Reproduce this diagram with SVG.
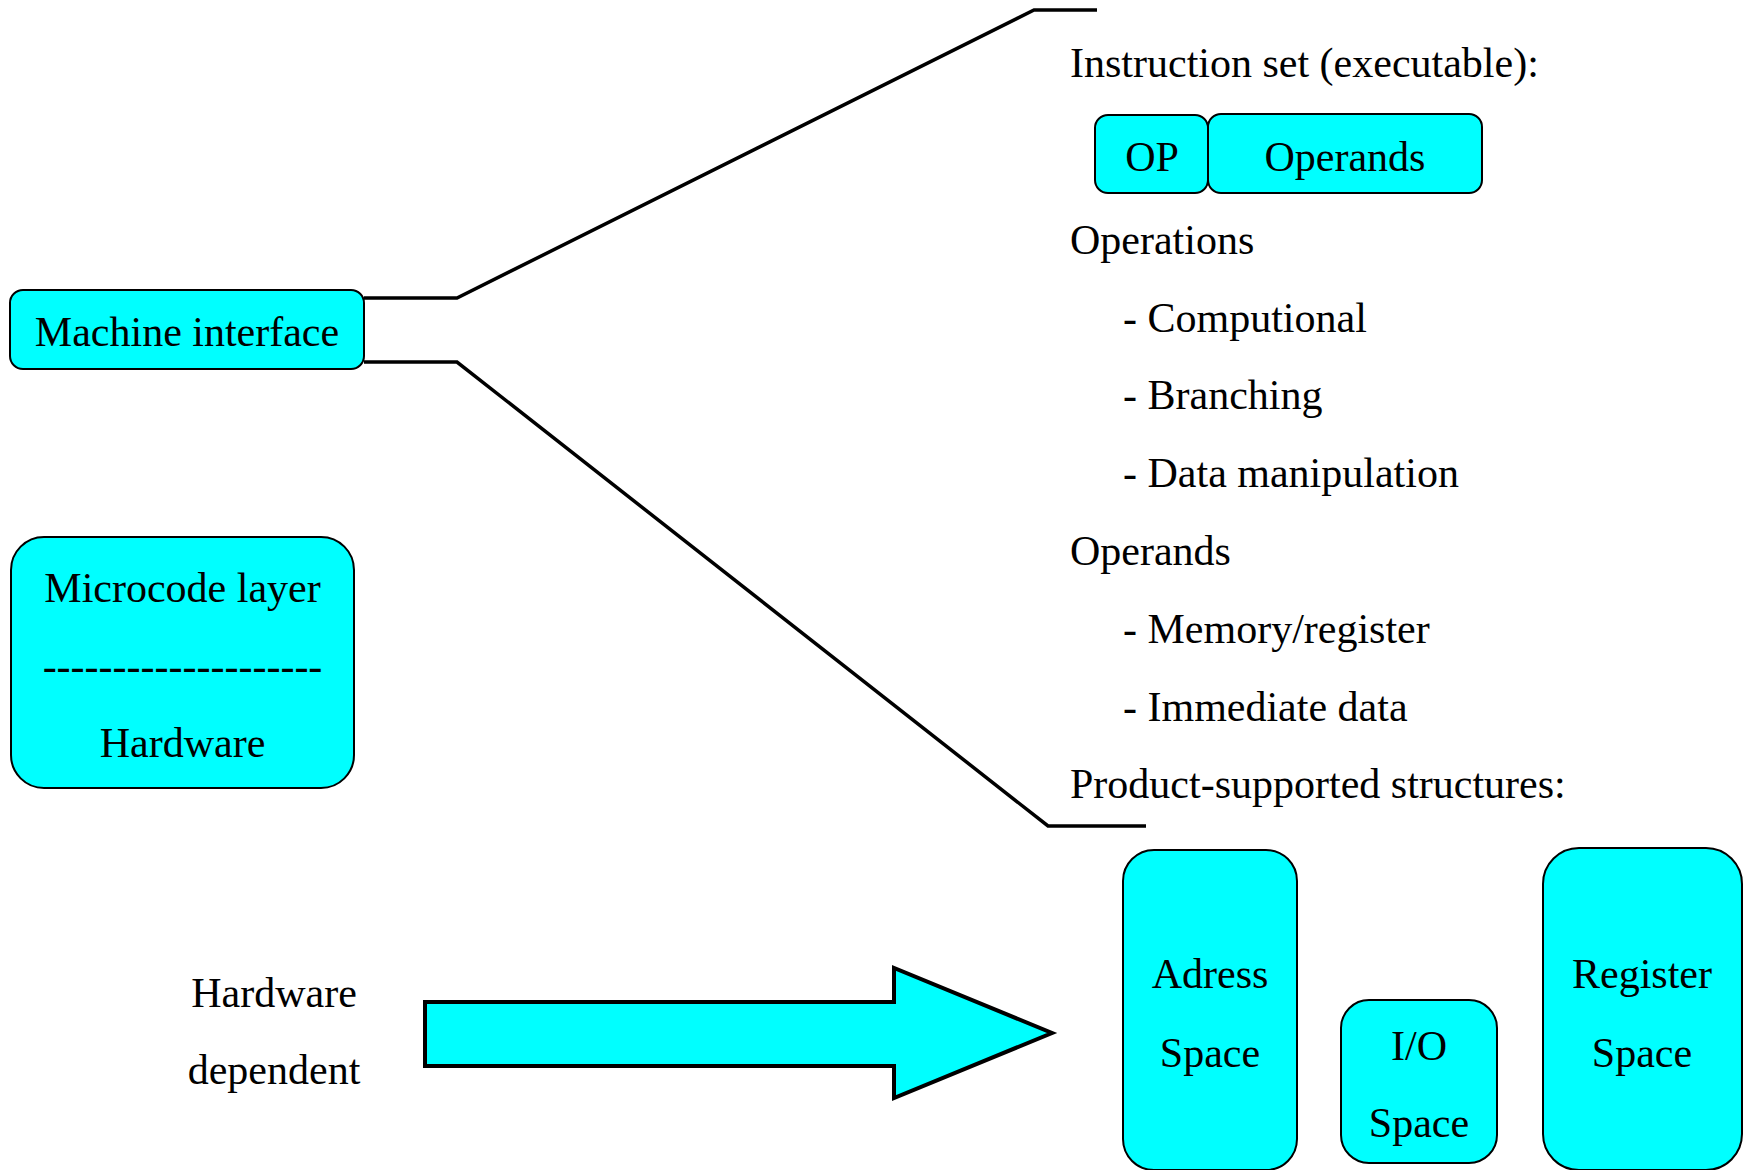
<svg xmlns="http://www.w3.org/2000/svg" width="1754" height="1170" viewBox="0 0 1754 1170">
  <style>
    text { font-family: "Liberation Serif", "Times New Roman", serif; font-size: 42px; fill: #000; }
    .c { text-anchor: middle; }
    .box { fill: #00FFFF; stroke: #000; stroke-width: 2; }
    .link { fill: none; stroke: #000; stroke-width: 3.5; stroke-linejoin: miter; }
    .big-arrow { fill: #00FFFF; stroke: #000; stroke-width: 4; stroke-linejoin: miter; }
  </style>
  <rect width="1754" height="1170" fill="#fff"/>

  <!-- brackets from the machine interface to its description -->
  <g id="connectors">
    <polyline class="link" points="364,298 457,298 1034,10 1097,10"/>
    <polyline class="link" points="364,362 457,362 1048,826 1146,826"/>
  </g>

  <g id="machine-interface">
    <rect class="box" x="10" y="290" width="354" height="79" rx="13"/>
    <text class="c" x="187" y="346">Machine interface</text>
  </g>

  <g id="microcode-hardware">
    <rect class="box" x="11" y="537" width="343" height="251" rx="33"/>
    <text class="c" x="182.5" y="602">Microcode layer</text>
    <text class="c" x="182.5" y="680">--------------------</text>
    <text class="c" x="182.5" y="757">Hardware</text>
  </g>

  <g id="instruction-set">
    <text x="1070" y="77">Instruction set (executable):</text>
  </g>

  <g id="op-field">
    <rect class="box" x="1095" y="115" width="113" height="78" rx="13"/>
    <text class="c" x="1152" y="171">OP</text>
  </g>

  <g id="operands-field">
    <rect class="box" x="1208" y="114" width="274" height="79" rx="13"/>
    <text class="c" x="1345" y="171">Operands</text>
  </g>

  <g id="description">
    <text x="1070" y="254">Operations</text>
    <text x="1123" y="332">- Computional</text>
    <text x="1123" y="409">- Branching</text>
    <text x="1123" y="487">- Data manipulation</text>
    <text x="1070" y="565">Operands</text>
    <text x="1123" y="643">- Memory/register</text>
    <text x="1123" y="721">- Immediate data</text>
    <text x="1070" y="798">Product-supported structures:</text>
  </g>

  <g id="hardware-dependent">
    <text class="c" x="274" y="1007">Hardware</text>
    <text class="c" x="274" y="1084">dependent</text>
    <polygon class="big-arrow" points="425,1002 894,1002 894,968 1052,1033 894,1098 894,1066 425,1066"/>
  </g>

  <g id="address-space">
    <rect class="box" x="1123" y="850" width="174" height="320" rx="31"/>
    <text class="c" x="1210" y="988">Adress</text>
    <text class="c" x="1210" y="1067">Space</text>
  </g>

  <g id="io-space">
    <rect class="box" x="1341" y="1000" width="156" height="163" rx="28"/>
    <text class="c" x="1419" y="1060">I/O</text>
    <text class="c" x="1419" y="1137">Space</text>
  </g>

  <g id="register-space">
    <rect class="box" x="1543" y="848" width="199" height="322" rx="36"/>
    <text class="c" x="1642" y="988">Register</text>
    <text class="c" x="1642" y="1067">Space</text>
  </g>
</svg>
